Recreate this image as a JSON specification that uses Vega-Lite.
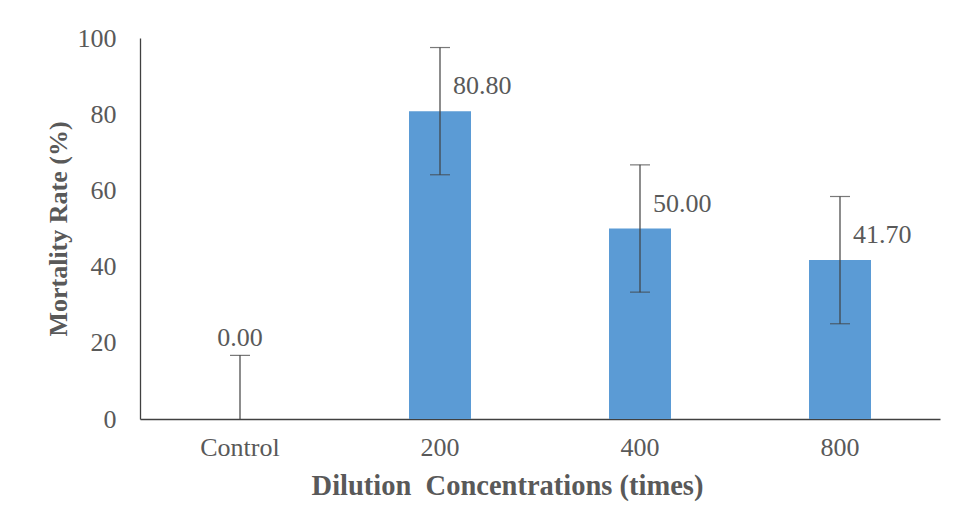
{
  "$schema": "https://vega.github.io/schema/vega-lite/v6.json",
  "width": 800,
  "height": 381,
  "autosize": {"type": "none"},
  "padding": {"left": 140, "top": 38, "right": 16, "bottom": 94},
  "background": "white",
  "config": {
    "view": {"stroke": null},
    "font": "Liberation Serif",
    "text": {"font": "Liberation Serif"},
    "axis": {"labelFont": "Liberation Serif", "titleFont": "Liberation Serif", "labelColor": "#595959", "titleColor": "#595959", "domainColor": "#404040", "domainWidth": 1.3, "ticks": false, "grid": false}
  },
  "data": {
    "values": [
      {"group": "Control", "value": 0.0, "lo": 0.0, "hi": 16.7, "label": "0.00"},
      {"group": "200", "value": 80.8, "lo": 64.1, "hi": 97.5, "label": "80.80"},
      {"group": "400", "value": 50.0, "lo": 33.3, "hi": 66.7, "label": "50.00"},
      {"group": "800", "value": 41.7, "lo": 25.0, "hi": 58.4, "label": "41.70"}
    ]
  },
  "encoding": {
    "x": {
      "field": "group", "type": "nominal", "sort": null,
      "scale": {"paddingInner": 0.69, "paddingOuter": 0.345},
      "axis": {"title": "Dilution\u00a0 Concentrations (times)", "labelAngle": 0, "labelFontSize": 26, "labelPadding": 15, "titleFontSize": 28.5, "titleFontWeight": "bold", "titlePadding": 11, "titleX": 367, "titleAnchor": "middle"}
    }
  },
  "layer": [
    {
      "mark": {"type": "bar", "color": "#5B9BD5"},
      "encoding": {
        "y": {"field": "value", "type": "quantitative", "scale": {"domain": [0, 100], "nice": false},
          "axis": {"title": "Mortality Rate (%)", "values": [0, 20, 40, 60, 80, 100], "labelFontSize": 26, "labelPadding": 24, "titleFontSize": 26, "titleFontWeight": "bold", "titlePadding": 6}}
      }
    },
    {
      "mark": {"type": "rule", "color": "#404040", "strokeWidth": 1.2},
      "encoding": {
        "y": {"field": "lo", "type": "quantitative"},
        "y2": {"field": "hi"}
      }
    },
    {
      "mark": {"type": "tick", "color": "#404040", "thickness": 1.2, "size": 20, "orient": "horizontal"},
      "encoding": {"y": {"field": "hi", "type": "quantitative"}}
    },
    {
      "transform": [{"filter": "datum.group !== 'Control'"}],
      "mark": {"type": "tick", "color": "#404040", "thickness": 1.2, "size": 20, "orient": "horizontal"},
      "encoding": {"y": {"field": "lo", "type": "quantitative"}}
    },
    {
      "transform": [{"filter": "datum.group !== 'Control'"}],
      "mark": {"type": "text", "font": "Liberation Serif", "align": "left", "baseline": "bottom", "dx": 13, "dy": -12, "fontSize": 26, "color": "#595959"},
      "encoding": {
        "y": {"field": "value", "type": "quantitative"},
        "text": {"field": "label"}
      }
    },
    {
      "transform": [{"filter": "datum.group === 'Control'"}],
      "mark": {"type": "text", "font": "Liberation Serif", "align": "center", "baseline": "bottom", "dy": -4, "fontSize": 26, "color": "#595959"},
      "encoding": {
        "y": {"field": "hi", "type": "quantitative"},
        "text": {"field": "label"}
      }
    }
  ]
}
